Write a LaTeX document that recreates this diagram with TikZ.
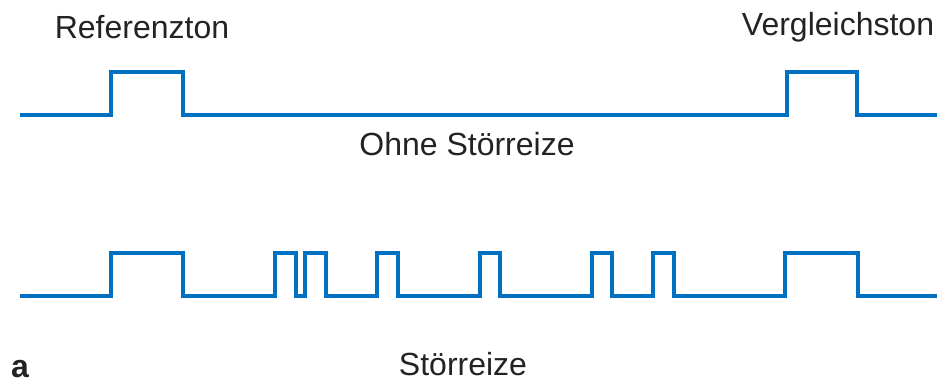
\documentclass[tikz,border=0pt]{standalone}
\usepackage{fontspec}
\setmainfont{Liberation Sans}
\definecolor{wave}{RGB}{0,112,192}
\definecolor{txt}{RGB}{35,35,35}
\begin{document}
\begin{tikzpicture}[x=1pt,y=-1pt,
  wavestyle/.style={draw=wave,line width=3.5pt,line join=miter,line cap=butt},
  lbl/.style={text=txt,font=\fontsize{32}{38}\selectfont,inner sep=0pt,anchor=base}]
\useasboundingbox (0,0) rectangle (937,380);
% top signal
\draw[wavestyle] (20,115) -- (111,115) -- (111,72) -- (183,72) -- (183,115)
  -- (787,115) -- (787,72) -- (857,72) -- (857,115) -- (937,115);
% bottom signal
\draw[wavestyle] (20,296) -- (111,296) -- (111,253) -- (183,253) -- (183,296)
  -- (275,296) -- (275,253) -- (296,253) -- (296,296)
  -- (305,296) -- (305,253) -- (326,253) -- (326,296)
  -- (377,296) -- (377,253) -- (398,253) -- (398,296)
  -- (480,296) -- (480,253) -- (500,253) -- (500,296)
  -- (592,296) -- (592,253) -- (612,253) -- (612,296)
  -- (653,296) -- (653,253) -- (674,253) -- (674,296)
  -- (785,296) -- (785,253) -- (858,253) -- (858,296) -- (937,296);
\node[lbl] (ref) at (142,38) {Referenzton};
\node[lbl] (verg) at (838,35) {Vergleichston};
\node[lbl] (ohne) at (467,155) {Ohne Störreize};
\node[lbl] (stoer) at (463,375) {Störreize};
\node[lbl,font=\fontsize{32}{38}\selectfont\bfseries] (a) at (20,377) {a};
\end{tikzpicture}
\end{document}
